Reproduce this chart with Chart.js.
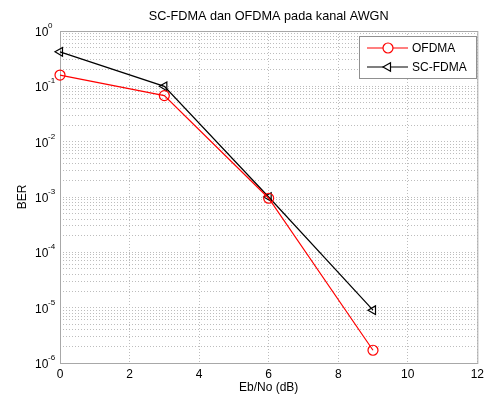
<!DOCTYPE html>
<html>
<head>
<meta charset="utf-8">
<script src="https://cdn.jsdelivr.net/npm/chart.js@4/dist/chart.umd.min.js"></script>
<style>
    html, body { margin: 0; padding: 0; background: #fff; }
    #wrap { width: 488px; height: 398px; }
</style>
</head>
<body>
<div id="wrap"><canvas id="chart" width="488" height="398"></canvas></div>
<script>
// Data
const ebno = [0, 3, 6, 9];
const berOfdma = [0.16, 0.068, 0.00095, 1.7e-6];
const berScfdma = [0.42, 0.1, 0.001, 9e-6];
const seriesNames = ['OFDMA', 'SC-FDMA'];
const xTicks = [0, 2, 4, 6, 8, 10, 12];
const yExponents = [-6, -5, -4, -3, -2, -1, 0];
const yMinorSteps = [2, 3, 4, 5, 6, 7, 8, 9];

const FONT = 'Arial, "Liberation Sans", sans-serif';
const GRID = '#bdbdbd';

function toPoints(xs, ys) {
    return xs.map((x, i) => ({ x: x, y: ys[i] }));
}

// log ticks: every decade plus 2..9 in between
function buildLogTicks() {
    const ticks = [];
    yExponents.forEach((e, i) => {
        ticks.push({ value: Math.pow(10, e), major: true });
        if (i < yExponents.length - 1) {
            yMinorSteps.forEach(m => ticks.push({ value: m * Math.pow(10, e), major: false }));
        }
    });
    return ticks;
}

// MATLAB style bits: title, box, 10^n labels, legend
const matlabBits = {
    id: 'matlabBits',
    beforeDatasetsDraw(chart) {
        const ctx = chart.ctx;
        const area = chart.chartArea;
        ctx.save();
        ctx.strokeStyle = '#a8a8a8';
        ctx.lineWidth = 1;
        ctx.strokeRect(area.left + 0.5, area.top + 0.5, area.right - area.left, area.bottom - area.top);
        ctx.restore();
    },
    afterDraw(chart) {
        const ctx = chart.ctx;
        const area = chart.chartArea;
        const yScale = chart.scales.y;

        ctx.save();
        // title
        ctx.fillStyle = '#000';
        ctx.font = '12.7px ' + FONT;
        ctx.textAlign = 'center';
        ctx.textBaseline = 'middle';
        ctx.fillText('SC-FDMA dan OFDMA pada kanal AWGN', (area.left + area.right) / 2, 16);

        // y tick labels 10^n
        ctx.textAlign = 'left';
        ctx.textBaseline = 'alphabetic';
        yExponents.forEach(e => {
            const py = yScale.getPixelForValue(Math.pow(10, e));
            ctx.font = '12px ' + FONT;
            ctx.fillText('10', 35, py + 5);
            ctx.font = '8px ' + FONT;
            ctx.fillText(e === 0 ? '0' : '-' + Math.abs(e), 48, py - 3);
        });

        // legend
        const lx = 359, ly = 36, lw = 117, lh = 42;
        ctx.fillStyle = '#fff';
        ctx.fillRect(lx, ly, lw, lh);
        ctx.strokeStyle = '#909090';
        ctx.lineWidth = 1;
        ctx.strokeRect(lx + 0.5, ly + 0.5, lw, lh);
        chart.data.datasets.forEach((ds, i) => {
            const y = ly + 12 + i * 19;
            ctx.strokeStyle = ds.borderColor;
            ctx.lineWidth = 1.2;
            ctx.beginPath();
            ctx.moveTo(367, y);
            ctx.lineTo(408, y);
            ctx.stroke();
            ctx.fillStyle = '#fff';
            ctx.strokeStyle = ds.pointBorderColor;
            Chart.helpers.drawPoint(ctx, {
                pointStyle: ds.pointStyle,
                rotation: ds.pointRotation || 0,
                radius: 5,
                borderWidth: 1.2
            }, 388, y);
            ctx.fillStyle = '#000';
            ctx.font = '12px ' + FONT;
            ctx.textBaseline = 'middle';
            ctx.fillText(ds.label, 412, y + 1);
        });
        ctx.restore();
    }
};

const pointOpts = {
    borderWidth: 1.2,
    pointRadius: 5,
    pointBorderWidth: 1.2,
    pointBackgroundColor: 'rgba(0,0,0,0)',
    fill: false,
    tension: 0,
    clip: false
};

new Chart(document.getElementById('chart'), {
    type: 'line',
    data: {
        datasets: [
            Object.assign({
                label: seriesNames[0],
                data: toPoints(ebno, berOfdma),
                borderColor: '#ff0000',
                pointBorderColor: '#ff0000',
                pointStyle: 'circle'
            }, pointOpts),
            Object.assign({
                label: seriesNames[1],
                data: toPoints(ebno, berScfdma),
                borderColor: '#000000',
                pointBorderColor: '#000000',
                pointStyle: 'triangle',
                pointRotation: -90
            }, pointOpts)
        ]
    },
    options: {
        responsive: false,
        animation: false,
        layout: { padding: { top: 31, right: 8, left: 0, bottom: 0 } },
        plugins: {
            legend: { display: false },
            title: { display: false },
            tooltip: { enabled: false }
        },
        scales: {
            x: {
                type: 'linear',
                min: 0,
                max: 12,
                afterBuildTicks: (scale) => { scale.ticks = xTicks.map(v => ({ value: v })); },
                afterFit: (scale) => { scale.height = 35; },
                grid: { color: GRID, drawTicks: false, lineWidth: 1 },
                border: { display: false, dash: [1, 2] },
                ticks: { color: '#000', padding: 4, font: { family: FONT, size: 12 }, maxRotation: 0 },
                title: {
                    display: true,
                    text: 'Eb/No (dB)',
                    color: '#000',
                    font: { family: FONT, size: 12 },
                    padding: { top: 0, bottom: 3 }
                }
            },
            y: {
                type: 'logarithmic',
                min: 1e-6,
                max: 1,
                afterBuildTicks: (scale) => { scale.ticks = buildLogTicks(); },
                afterFit: (scale) => { scale.width = 60; },
                grid: { color: GRID, drawTicks: false, lineWidth: 1 },
                border: { display: false, dash: [1, 2] },
                ticks: { display: false },
                title: {
                    display: true,
                    text: 'BER',
                    color: '#000',
                    font: { family: FONT, size: 12 },
                    padding: { top: 15, bottom: 0 }
                }
            }
        }
    },
    plugins: [matlabBits]
});
</script>
</body>
</html>
